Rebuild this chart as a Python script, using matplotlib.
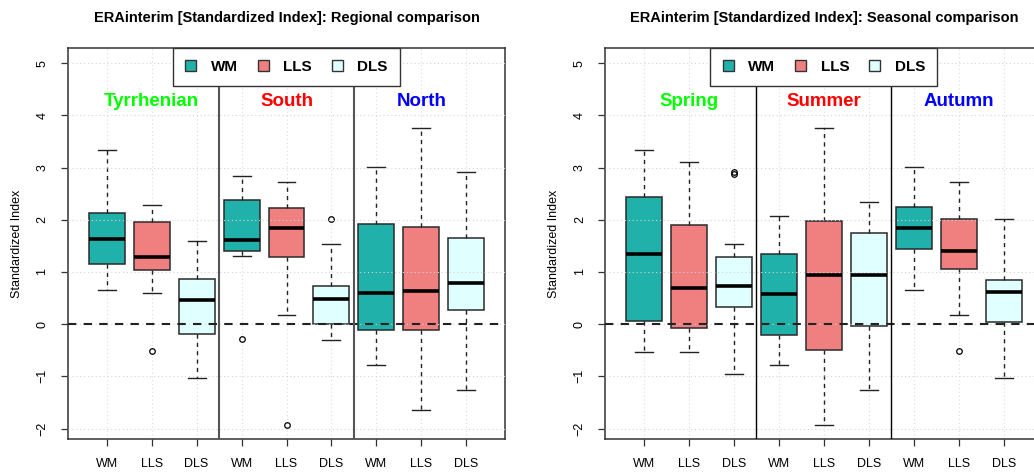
import matplotlib
matplotlib.use('Agg')
import matplotlib.pyplot as plt
from matplotlib.patches import Patch

plt.rcParams['font.family'] = ['Liberation Sans', 'DejaVu Sans']

box_labels = ['WM', 'LLS', 'DLS'] * 3
type_names = ['WM', 'LLS', 'DLS']
type_colors = ['#20B2AA', '#F08080', '#E0FFFF']

# regional comparison
reg_groups = ['Tyrrhenian', 'South', 'North']
reg_whishi = [3.34, 2.29, 1.59, 2.83, 2.73, 1.54, 3.01, 3.76, 2.91]
reg_q3 = [2.12, 1.95, 0.87, 2.38, 2.22, 0.73, 1.91, 1.86, 1.65]
reg_med = [1.63, 1.28, 0.46, 1.61, 1.84, 0.48, 0.59, 0.64, 0.78]
reg_q1 = [1.15, 1.03, -0.19, 1.40, 1.28, 0.00, -0.12, -0.12, 0.27]
reg_whislo = [0.66, 0.59, -1.04, 1.31, 0.17, -0.31, -0.79, -1.65, -1.26]
reg_fliers = [[], [-0.52], [], [-0.29], [-1.93], [2.02], [], [], []]

# seasonal comparison
sea_groups = ['Spring', 'Summer', 'Autumn']
sea_whishi = [3.34, 3.10, 1.54, 2.08, 3.76, 2.34, 3.01, 2.73, 2.02]
sea_q3 = [2.43, 1.90, 1.28, 1.34, 1.97, 1.75, 2.25, 2.02, 0.84]
sea_med = [1.35, 0.69, 0.73, 0.57, 0.94, 0.95, 1.84, 1.40, 0.61]
sea_q1 = [0.06, -0.07, 0.33, -0.21, -0.50, -0.04, 1.44, 1.05, 0.05]
sea_whislo = [-0.54, -0.54, -0.95, -0.79, -1.93, -1.26, 0.66, 0.17, -1.04]
sea_fliers = [[], [], [2.88, 2.91], [], [], [], [], [-0.52], []]

group_colors = ['#00FF00', '#FF0000', '#0000FF']
yticks = [-2, -1, 0, 1, 2, 3, 4, 5]

W, H = 1034, 473
fig = plt.figure(figsize=(W / 100, H / 100), dpi=100)


def panel(x0, title, groups, whislo, q1, med, q3, whishi, fliers, sep_color, sep_lw):
    ax = fig.add_axes([x0 / W, (H - 439) / H, 437 / W, 391 / H])
    stats = []
    for i in range(9):
        stats.append(dict(whislo=whislo[i], q1=q1[i], med=med[i], q3=q3[i],
                          whishi=whishi[i], fliers=fliers[i], label=box_labels[i]))
    pos = list(range(1, 10))
    bp = ax.bxp(stats, positions=pos, widths=0.8, capwidths=0.4, patch_artist=True,
                boxprops=dict(edgecolor='#2a2a2a', linewidth=1.1),
                whiskerprops=dict(color='#222222', linewidth=1.0, linestyle=(0, (3, 3))),
                capprops=dict(color='#222222', linewidth=1.0),
                medianprops=dict(color='black', linewidth=2.6, solid_capstyle='butt'),
                flierprops=dict(marker='o', markerfacecolor='none', markeredgecolor='black',
                                markersize=4, markeredgewidth=0.9))
    for i, b in enumerate(bp['boxes']):
        b.set_facecolor(type_colors[i % 3])
    ax.set_xlim(0.14, 9.86)
    ax.set_ylim(-2.2, 5.29)
    # grid + zero line on top of the boxes
    for y in yticks:
        ax.axhline(y, color='#d3d3d3', lw=0.8, ls=(0, (1, 2.5)), zorder=3)
    for x in pos:
        ax.axvline(x, color='#dcdcdc', lw=0.8, ls=(0, (1, 2.5)), zorder=1.5)
    ax.axhline(0, color='#222222', lw=1.5, ls=(0, (4, 3.5)), zorder=4)
    for x in [3.5, 6.5]:
        ax.axvline(x, color=sep_color, lw=sep_lw, zorder=4)
    for g in range(3):
        ax.text(2 + 3 * g, 4.18, groups[g], color=group_colors[g], fontsize=13.5,
                fontweight='bold', ha='center', va='baseline', zorder=5)
    ax.set_xticks(pos)
    ax.set_xticklabels(box_labels, fontsize=9)
    ax.set_yticks(yticks)
    ax.set_yticklabels([str(v).replace('-', '\u2212') for v in yticks], fontsize=9,
                       rotation=90, va='center')
    ax.tick_params(axis='both', length=5, width=0.9, color='#333333')
    ax.tick_params(axis='x', pad=9)
    ax.tick_params(axis='y', pad=9)
    for s in ax.spines.values():
        s.set_color('#333333')
        s.set_linewidth(1.1)
    ax.set_ylabel('Standardized Index', fontsize=9)
    ax.yaxis.label.set_va('center')
    ax.yaxis.set_label_coords(-0.117, 0.5)
    ax.set_title(title, fontsize=10.5, fontweight='bold', pad=19)
    handles = [Patch(facecolor=type_colors[k], edgecolor='#333333', linewidth=1.0)
               for k in range(3)]
    leg = ax.legend(handles, type_names, loc='upper center', bbox_to_anchor=(0.5, 1.0),
                    ncol=3, frameon=True, fancybox=False, framealpha=1, edgecolor='#333333',
                    borderaxespad=0, handlelength=0.72, handleheight=0.72,
                    handletextpad=0.95, columnspacing=1.3, borderpad=0.8,
                    prop=dict(weight='bold', size=11))
    leg.get_frame().set_linewidth(1.0)
    leg.set_zorder(10)
    return ax


panel(68, 'ERAinterim [Standardized Index]: Regional comparison', reg_groups,
      reg_whislo, reg_q1, reg_med, reg_q3, reg_whishi, reg_fliers, '#555555', 1.5)
panel(605.3, 'ERAinterim [Standardized Index]: Seasonal comparison', sea_groups,
      sea_whislo, sea_q1, sea_med, sea_q3, sea_whishi, sea_fliers, 'black', 1.0)

fig.savefig('out.png', dpi=100)
